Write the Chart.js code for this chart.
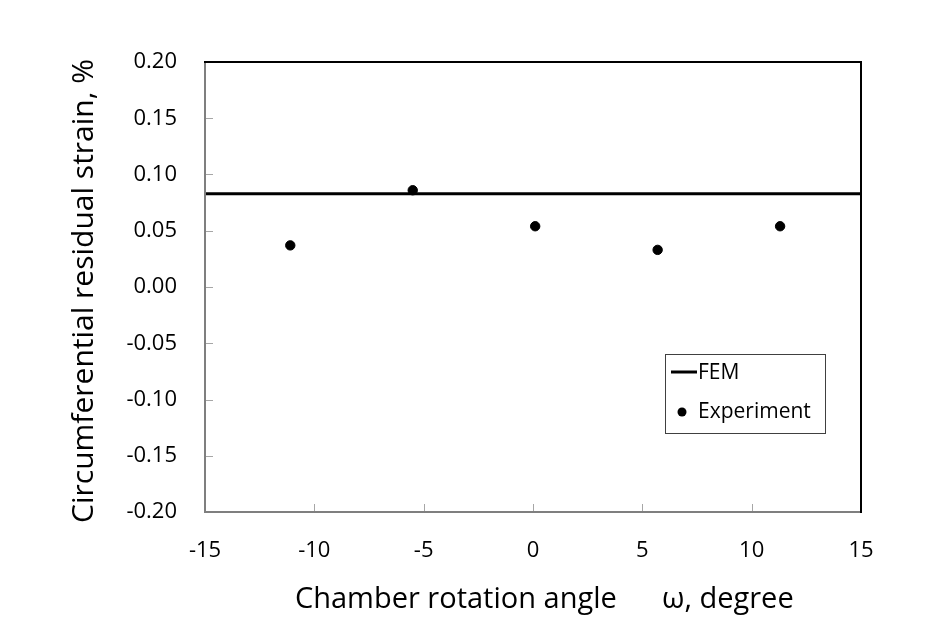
<!DOCTYPE html>
<html>
<head>
<meta charset="utf-8">
<script src="https://cdn.jsdelivr.net/npm/chart.js@4/dist/chart.umd.min.js"></script>
<style>
html,body{margin:0;padding:0;background:#fff;}
#wrap{width:942px;height:626px;position:relative;}
</style>
</head>
<body>
<div id="wrap"><canvas id="c" width="942" height="626"></canvas></div>
<script>
const femLabel = "FEM";
const femX = [-15, 15];
const femY = [0.083, 0.083];
const expLabel = "Experiment";
const expX = [-11.1, -5.5, 0.1, 5.7, 11.3];
const expY = [0.037, 0.086, 0.054, 0.033, 0.054];
const xTicks = [-15, -10, -5, 0, 5, 10, 15];
const yTicks = [-0.20, -0.15, -0.10, -0.05, 0.00, 0.05, 0.10, 0.15, 0.20];
const xTitle = "   Chamber rotation angle      \u03c9, degree";
const yTitle = "Circumferential residual strain, % ";

const FONT = "'Open Sans', Lato, sans-serif";

const framePlugin = {
  id: 'frame',
  afterDatasetsDraw(chart) {
    const {ctx, chartArea: a, scales} = chart;
    ctx.save();
    // inward ticks
    ctx.strokeStyle = '#a6a6a6';
    ctx.lineWidth = 1;
    scales.y.ticks.forEach(t => {
      const py = Math.round(scales.y.getPixelForValue(t.value)) + 0.5;
      ctx.beginPath(); ctx.moveTo(a.left, py); ctx.lineTo(a.left + 8, py); ctx.stroke();
    });
    scales.x.ticks.forEach(t => {
      const px = Math.round(scales.x.getPixelForValue(t.value)) + 0.5;
      ctx.beginPath(); ctx.moveTo(px, a.bottom); ctx.lineTo(px, a.bottom - 8); ctx.stroke();
    });
    // left and bottom gray
    ctx.strokeStyle = '#7f7f7f';
    ctx.lineWidth = 2;
    ctx.beginPath(); ctx.moveTo(a.left, a.top); ctx.lineTo(a.left, a.bottom); ctx.lineTo(a.right, a.bottom); ctx.stroke();
    // top and right black
    ctx.strokeStyle = '#000';
    ctx.beginPath(); ctx.moveTo(a.left - 1, a.top); ctx.lineTo(a.right, a.top); ctx.lineTo(a.right, a.bottom + 1); ctx.stroke();

    // legend
    const lx = 665, ly = 354, lw = 160, lh = 79;
    ctx.fillStyle = '#fff';
    ctx.fillRect(lx, ly, lw, lh);
    ctx.strokeStyle = '#404040';
    ctx.lineWidth = 1;
    ctx.strokeRect(lx + 0.5, ly + 0.5, lw, lh);
    const ds = chart.data.datasets;
    ctx.font = "21px " + FONT;
    ctx.fillStyle = '#000';
    ctx.textBaseline = 'middle';
    ctx.textAlign = 'left';
    // FEM
    ctx.strokeStyle = '#000';
    ctx.lineWidth = 3;
    ctx.beginPath(); ctx.moveTo(671, 372); ctx.lineTo(697, 372); ctx.stroke();
    ctx.fillText(ds[0].label, 698, 373);
    // Experiment
    ctx.beginPath(); ctx.arc(682, 412, 4.5, 0, Math.PI * 2); ctx.fill();
    ctx.fillText(ds[1].label, 698, 412);
    ctx.restore();
  }
};

new Chart(document.getElementById('c'), {
  type: 'scatter',
  data: {
    datasets: [
      {
        label: femLabel,
        type: 'line',
        data: femX.map((x, i) => ({x, y: femY[i]})),
        borderColor: '#000',
        borderWidth: 3,
        pointRadius: 0,
        fill: false,
        order: 2
      },
      {
        label: expLabel,
        data: expX.map((x, i) => ({x, y: expY[i]})),
        backgroundColor: '#000',
        borderColor: '#000',
        pointRadius: 4.7,
        pointHoverRadius: 4.7,
        order: 1
      }
    ]
  },
  plugins: [framePlugin],
  options: {
    responsive: false,
    animation: false,
    events: [],
    layout: { padding: { left: 66, top: 62, right: 81, bottom: 0 } },
    plugins: { legend: { display: false }, tooltip: { enabled: false } },
    scales: {
      x: {
        type: 'linear',
        min: -15, max: 15,
        afterBuildTicks: s => { s.ticks = xTicks.map(v => ({value: v})); },
        afterFit: s => { s.height = 114; },
        grid: { display: false, drawTicks: false },
        border: { display: false },
        ticks: {
          padding: 26,
          color: '#000',
          font: { family: FONT, size: 22 },
          callback: v => String(v)
        },
        title: {
          display: true,
          text: xTitle,
          color: '#000',
          font: { family: FONT, size: 29 },
          padding: { top: 10, bottom: 9 }
        }
      },
      y: {
        type: 'linear',
        min: -0.2, max: 0.2,
        afterBuildTicks: s => { s.ticks = yTicks.map(v => ({value: v})); },
        afterFit: s => { s.width = 139; },
        grid: { display: false, drawTicks: false },
        border: { display: false },
        ticks: {
          padding: 28,
          color: '#000',
          font: { family: FONT, size: 22 },
          callback: v => Number(v).toFixed(2)
        },
        title: {
          display: true,
          text: yTitle,
          color: '#000',
          font: { family: FONT, size: 30 },
          padding: { top: 0, bottom: 0 }
        }
      }
    }
  }
});
</script>
</body>
</html>
